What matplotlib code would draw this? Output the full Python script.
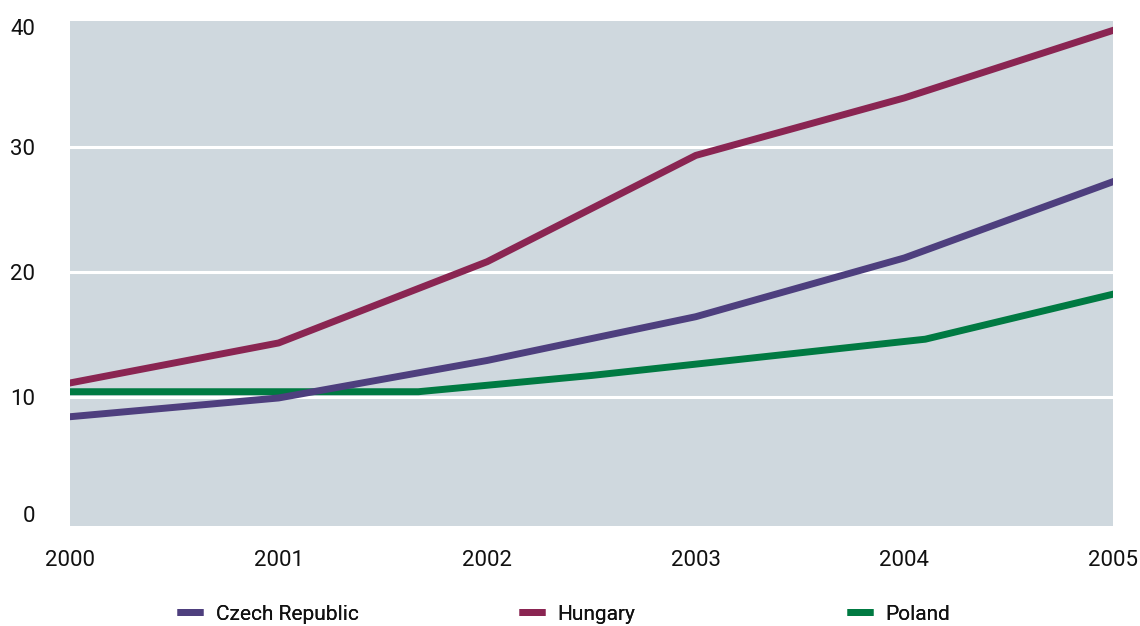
import matplotlib
matplotlib.use("Agg")
import matplotlib.pyplot as plt
from matplotlib.lines import Line2D
from matplotlib.transforms import ScaledTranslation

plt.rcParams["font.family"] = ["Roboto", "DejaVu Sans"]

years = [2000, 2001, 2002, 2003, 2004, 2005]
czech = [8.4, 9.9, 12.9, 16.4, 21.1, 27.2]
hungary = [11.1, 14.3, 20.8, 29.3, 33.9, 39.3]
# Poland's series has its break points between the year marks
poland_x = [2000, 2001.67, 2002.5, 2004.1, 2005]
poland = [10.4, 10.4, 11.7, 14.6, 18.2]

series_names = ["Czech Republic", "Hungary", "Poland"]
colors = ["#4e3f7e", "#8a2552", "#007a42"]
y_ticks = [0, 10, 20, 30, 40]

fig = plt.figure(figsize=(11.4, 6.26), dpi=100)
ax = fig.add_axes([70 / 1140, 1 - 525.5 / 626, (1113 - 70) / 1140, (525.5 - 21) / 626])
ax.set_facecolor("#cfd8de")

for v in y_ticks[1:-1]:
    ax.axhline(v, color="white", lw=2.2, zorder=1)

ax.plot(years, czech, color=colors[0], lw=5, zorder=3, solid_joinstyle="round")
ax.plot(years, hungary, color=colors[1], lw=5, zorder=3, solid_joinstyle="round")
ax.plot(poland_x, poland, color=colors[2], lw=5, zorder=2, solid_joinstyle="round")

ax.set_xlim(2000, 2005)
ax.set_ylim(-0.3, 40.05)
ax.set_xticks(years)
ax.set_yticks(y_ticks)
ax.tick_params(length=0, labelsize=16, colors="#111111")
ax.tick_params(axis="x", pad=18)
ax.tick_params(axis="y", pad=25)
for s in ax.spines.values():
    s.set_visible(False)

# nudge the end labels of the value axis
ylabels = ax.get_yticklabels()
ylabels[0].set_transform(ylabels[0].get_transform() + ScaledTranslation(0, 8 / 100, fig.dpi_scale_trans))
ylabels[-1].set_transform(ylabels[-1].get_transform() + ScaledTranslation(0, -5 / 100, fig.dpi_scale_trans))

# one legend entry per column, spaced across the bottom
legend_x = [177, 519, 847]
for name, c, x in zip(series_names, colors, legend_x):
    h = Line2D([], [], color=c, lw=5, solid_capstyle="butt")
    leg = fig.legend(handles=[h], labels=[name], loc="center left",
                     bbox_to_anchor=(x / 1140, 1 - 614 / 626), frameon=False,
                     fontsize=15, handlelength=1.25, handletextpad=0.6,
                     borderpad=0, borderaxespad=0)
    leg.get_texts()[0].set_color("#111111")
    fig.add_artist(leg)

fig.savefig("out.png", dpi=100)
